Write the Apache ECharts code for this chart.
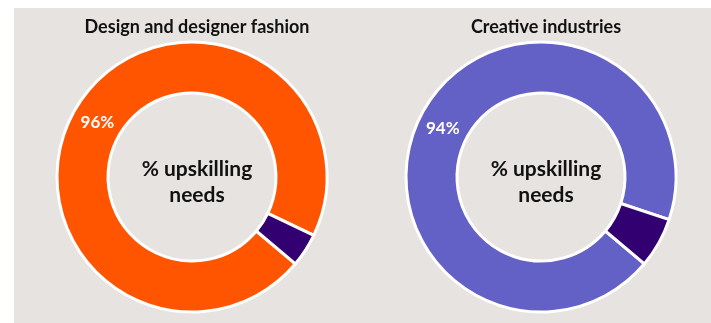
<!DOCTYPE html>
<html>
<head>
<meta charset="utf-8">
<script src="https://cdn.jsdelivr.net/npm/echarts@6/dist/echarts.min.js"></script>
<style>
  html, body { margin: 0; padding: 0; background: #ffffff; }
  #chart { width: 711px; height: 323px; }
</style>
</head>
<body>
<div id="chart"></div>
<script>
// Share of businesses reporting upskilling needs, by sector
const sectors = ['Design and designer fashion', 'Creative industries'];
const categories = ['Upskilling needs', 'No upskilling needs'];
const upskillingShare = [96, 94];
const noNeedShare = [4, 6];
const mainColors = ['#FF5500', '#6360C6'];
const minorColor = '#330072';

const FONT = 'Lato, "Open Sans", sans-serif';
const centersX = [192, 541];
const centerY = 177;

const chart = echarts.init(document.getElementById('chart'), null, { renderer: 'canvas' });

const series = sectors.map((name, i) => ({
  type: 'pie',
  name: name,
  center: [centersX[i], centerY],
  radius: [84, 135],
  startAngle: -40,
  clockwise: true,
  silent: true,
  avoidLabelOverlap: false,
  labelLine: { show: false },
  itemStyle: { borderColor: '#ffffff', borderWidth: 3 },
  data: [
    {
      name: categories[0],
      value: upskillingShare[i],
      itemStyle: { color: mainColors[i] },
      label: {
        show: true,
        position: 'inside',
        formatter: '{c}%',
        color: '#ffffff',
        fontFamily: FONT,
        fontWeight: 'bold',
        fontSize: 17,
        offset: [0, 6]
      }
    },
    {
      name: categories[1],
      value: noNeedShare[i],
      itemStyle: { color: minorColor },
      label: { show: false }
    }
  ]
}));

const titles = [];
sectors.forEach((name, i) => {
  titles.push({
    text: name,
    left: centersX[i],
    top: 13,
    textAlign: 'center',
    textStyle: { fontFamily: FONT, fontWeight: 'bold', fontSize: 18, color: '#111111' }
  });
  titles.push({
    text: '% upskilling\nneeds',
    left: centersX[i],
    top: 151,
    textAlign: 'center',
    textStyle: { fontFamily: FONT, fontWeight: 'bold', fontSize: 21, lineHeight: 26, color: '#111111' }
  });
});

chart.setOption({
  backgroundColor: '#ffffff',
  animation: false,
  graphic: [{
    type: 'rect',
    z: -10,
    shape: { x: 14, y: 8, width: 697, height: 315 },
    style: { fill: '#E7E3E0' }
  }],
  title: titles,
  series: series
});
</script>
</body>
</html>
